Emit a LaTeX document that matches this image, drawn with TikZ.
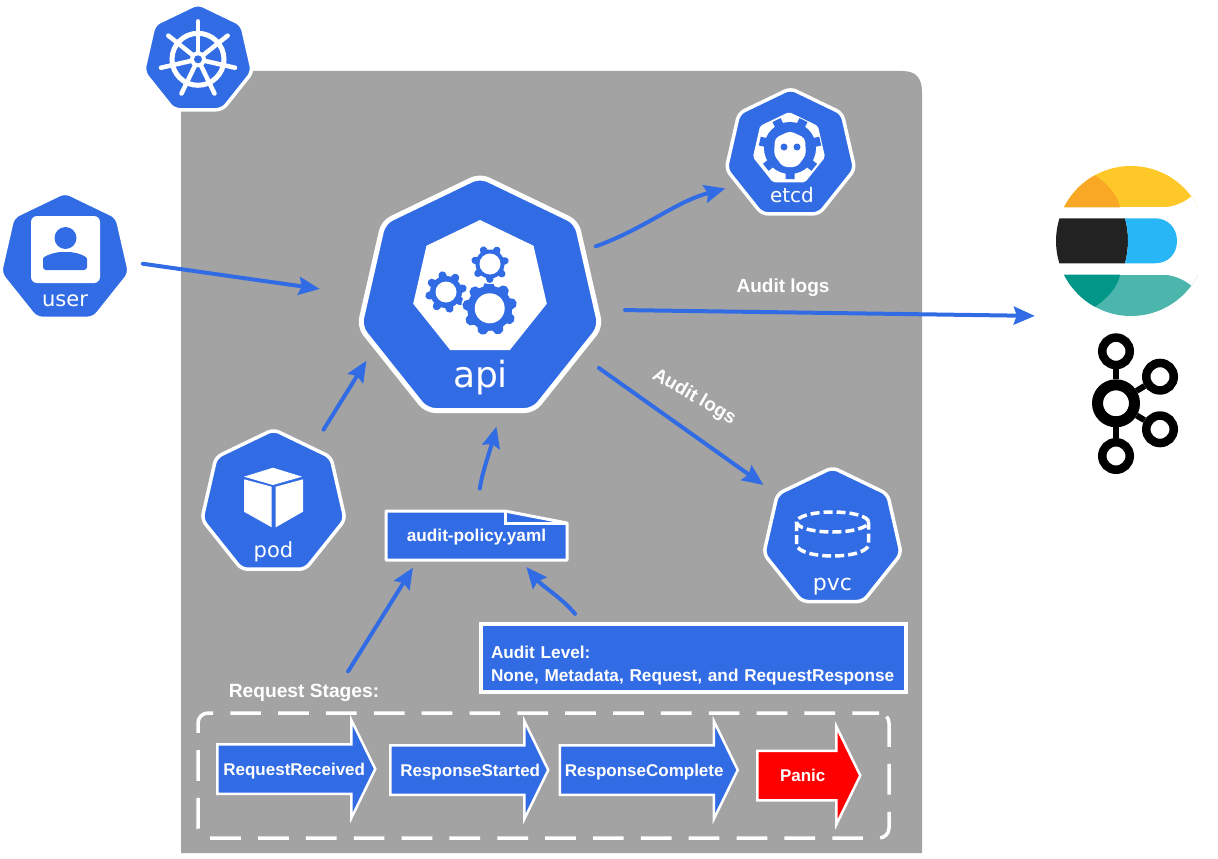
\documentclass[tikz,border=0pt]{standalone}
\usepackage{fontspec}
\setmainfont{DejaVu Sans}
\setsansfont{Liberation Sans}
\usetikzlibrary{positioning,arrows.meta,shapes.geometric,shapes.arrows,calc}
\definecolor{kubeblue}{RGB}{50,108,229}
\definecolor{panelgray}{RGB}{163,163,163}
\definecolor{elasticyellow}{RGB}{254,200,40}
\definecolor{elasticorange}{RGB}{249,168,37}
\definecolor{elasticsky}{RGB}{41,182,246}
\definecolor{elasticblack}{RGB}{34,34,34}
\definecolor{elasticteal}{RGB}{0,150,136}
\definecolor{elasticmint}{RGB}{77,182,172}
\newcommand{\kubegear}[6]{
  \fill[white] (#1,#2) circle[radius=#4+1pt];
  \foreach \tooth in {1,...,#5}
    \draw[kubeblue, line width=0.5*#3, line cap=round] (#1,#2) -- ++(\tooth*360/#5+12:#4-0.25*#3);
  \fill[kubeblue] (#1,#2) circle[radius=#3];
  \fill[white] (#1,#2) circle[radius=#6];
}
\begin{document}
\begin{tikzpicture}[x=1pt,y=-1pt,
  kube/.style={regular polygon, regular polygon sides=7, inner sep=0pt, fill=kubeblue,
               draw=white, line width=3.5pt, rounded corners=6pt},
  kubename/.style={anchor=base, text=white, inner sep=0pt, font=\fontsize{21}{24}\selectfont},
  boldtext/.style={text=white, inner sep=0pt, font=\sffamily\bfseries\fontsize{17.2}{23}\selectfont},
  stagearrow/.style={single arrow, single arrow head extend=24pt, single arrow tip angle=128,
               anchor=tail, minimum width=96pt, inner sep=0pt, fill=kubeblue, draw=white, line width=2.5pt,
               text=white, font=\sffamily\bfseries\fontsize{17}{18}\selectfont, text height=29.5pt, text depth=17.5pt},
  link/.style={-{Stealth[length=21pt,width=18pt,inset=3pt]}, line width=4pt, color=kubeblue, line cap=round},
  kafkaring/.style={circle, draw=black, inner sep=0pt, fill=white}]
  \useasboundingbox (0,0) rectangle (1218,859);
  \fill[panelgray] (181,71) -- (902,71) .. controls (916,71) and (922,78) .. (922,92) -- (922,853) -- (181,853) -- cycle;

  \node[kube, minimum size=112pt] (cluster) at (198,59.3) {};
  \draw[white, line width=5pt] (cluster.center) circle[radius=26pt];
  \foreach \spoke in {0,...,6}
    \draw[white, line width=4.5pt, line cap=round] (cluster.center) -- ++(90+\spoke*360/7:38pt);
  \fill[white] (cluster.center) circle[radius=8pt];
  \fill[kubeblue] (cluster.center) circle[radius=4pt];

  \node[kube, minimum size=133pt] (user) at (65,258.4) {};
  \fill[white, rounded corners=6pt] (31,216) rectangle (100,283);
  \fill[kubeblue] (65.5,238) circle[radius=11pt];
  \fill[kubeblue, rounded corners=3pt] (43,270) -- (43,262) .. controls (43,256) and (55,252) .. (65,252)
    .. controls (76,252) and (87,256) .. (87,262) -- (87,270) -- cycle;
  \node[kubename] (usertext) at (65,306) {user};

  \node[kube, line width=5pt, rounded corners=9pt, minimum size=247pt] (api) at (480,299.3) {};
  \node[regular polygon, regular polygon sides=7, inner sep=0pt, fill=white, minimum size=137pt] (apicore) at (480,288.5) {};
  \kubegear{446}{292}{16pt}{21pt}{8}{10.5pt}
  \kubegear{489.7}{308.3}{22.5pt}{27.5pt}{9}{15pt}
  \kubegear{490}{264}{14.5pt}{19pt}{7}{10.5pt}
  \node[kubename, font=\fontsize{36}{38}\selectfont] (apitext) at (480.5,387) {api};

  \node[kube, minimum size=132pt] (etcd) at (790.5,154.4) {};
  \node[regular polygon, regular polygon sides=7, inner sep=0pt, fill=white, rounded corners=2pt, minimum size=74pt] (etcdcore) at (789,149) {};
  \fill[kubeblue] (790,148) circle[radius=26pt];
  \foreach \notch in {0,...,6}
    \draw[kubeblue, line width=9pt] (790,148) -- ++(90+25.7+\notch*360/7:31pt);
  \fill[white, rounded corners=4pt] (790,131) -- (805,138) -- (806,155) -- (797,167) -- (783,167) -- (774,155) -- (775,138) -- cycle;
  \fill[kubeblue] (784,147) circle[radius=3.5pt] (797,147) circle[radius=3.5pt];
  \node[kubename, font=\fontsize{20}{24}\selectfont] (etcdtext) at (792,202) {etcd};

  \node[kube, minimum size=147pt] (pod) at (273.5,503) {};
  \fill[white] (273,467.7) -- (302,476.7) -- (273,485) -- (244,476.7) -- cycle;
  \fill[white] (244,479.3) -- (271.7,486.7) -- (271.7,527.3) -- (244,511.7) -- cycle;
  \fill[white] (303,479.3) -- (275.7,486.7) -- (275.7,527.3) -- (303,511.7) -- cycle;
  \node[kubename] (podtext) at (273.5,557) {pod};

  \node[kube, minimum size=141pt] (pvc) at (832.5,538) {};
  \draw[white, line width=3.5pt, dash pattern=on 9pt off 4pt] (832.5,522) ellipse[x radius=36pt, y radius=10pt];
  \draw[white, line width=3.5pt, dash pattern=on 9pt off 4pt] (796.5,522) -- (796.5,545) .. controls (798,552) and (815,556) .. (832.5,556)
    .. controls (850,556) and (867,552) .. (868.5,545) -- (868.5,522);
  \node[kubename, font=\fontsize{22}{24}\selectfont] (pvctext) at (832.5,590) {pvc};

  \fill[kubeblue, draw=white, line width=3pt, line join=round] (386,511) -- (505,511) -- (567,523) -- (567,560) -- (386,560) -- cycle;
  \draw[white, line width=3pt] (505,511) -- (505,523) -- (567,523);
  \node[boldtext, minimum width=181pt, minimum height=49pt] (policy) at (476.5,537) {audit-policy.yaml};

  \node[boldtext, fill=kubeblue, draw=white, line width=3.5pt, minimum width=425pt, minimum height=68pt,
        inner xsep=10pt, align=left, text width=405pt] (level) at (693.5,658)
    {\rule{0pt}{28pt}Audit Level:\\None, Metadata, Request, and RequestResponse};

  \node[boldtext, font=\sffamily\bfseries\fontsize{19.2}{20}\selectfont] (stagetitle) at (304,693) {Request Stages:};
  \node[draw=white, line width=3.5pt, dash pattern=on 30.7pt off 17.15pt, dash phase=4pt, rounded corners=10pt,
        minimum width=691pt, minimum height=125pt] (stages) at (543.5,775.5) {};

  \node[stagearrow, minimum height=158pt] (received) at (216,769) {\kern4pt RequestReceived\kern-4pt};
  \node[stagearrow, minimum height=158pt] (started) at (389,770) {\kern7pt ResponseStarted\kern-7pt};
  \node[stagearrow, minimum height=178pt] (complete) at (558.5,770) {\kern1.5pt ResponseComplete\kern-1.5pt};
  \node[stagearrow, fill=red, minimum height=103pt] (panic) at (756,775.5) {Panic};

  \node[inner sep=0pt, minimum width=134pt, minimum height=150pt] (elastic) at (1124,241) {};
  \begin{scope}
    \clip (1131,241) circle[radius=75pt];
    \fill[elasticyellow] (1050,160) rectangle (1206,207.3);
    \fill[white] (1161.7,207.3) .. controls (1172,207.3) and (1182,204) .. (1192,196) -- (1210,196) -- (1210,207.3) -- cycle;
    \fill[elasticorange] (1050,207.3) -- (1120,207.3) .. controls (1118,196) and (1108,184) .. (1096,176) -- (1050,160) -- cycle;
    \fill[elasticmint] (1050,274.7) rectangle (1206,322);
    \fill[white] (1161.7,274.7) .. controls (1172,274.7) and (1182,278) .. (1192,286) -- (1210,286) -- (1210,274.7) -- cycle;
    \fill[elasticteal] (1050,274.7) -- (1120,274.7) .. controls (1118,286) and (1108,298) .. (1096,306) -- (1050,322) -- cycle;
    \fill[elasticblack] (1050,218.3) -- (1125,218.3) .. controls (1129,233) and (1129,248) .. (1125,263.3) -- (1050,263.3) -- cycle;
  \end{scope}
  \fill[elasticsky] (1125,218.3) -- (1155,218.3) .. controls (1168,218.3) and (1177,228) .. (1177,241)
    .. controls (1177,254) and (1168,263.3) .. (1155,263.3) -- (1125,263.3) .. controls (1129,248) and (1129,233) .. (1125,218.3) -- cycle;

  \node[kafkaring, line width=8.5pt, minimum size=27.5pt] (kafkatop) at (1116,351.3) {};
  \node[kafkaring, line width=11pt, minimum size=37pt] (kafkahub) at (1116,403.3) {};
  \node[kafkaring, line width=8.5pt, minimum size=27.5pt] (kafkaupper) at (1160,376.7) {};
  \node[kafkaring, line width=8.5pt, minimum size=27.5pt] (kafkalower) at (1160,429.3) {};
  \node[kafkaring, line width=8.5pt, minimum size=27.5pt] (kafkabottom) at (1116,456) {};
  \draw[black, line width=6pt] (kafkahub) -- (kafkatop);
  \draw[black, line width=6pt] (kafkahub) -- (kafkaupper);
  \draw[black, line width=6pt] (kafkahub) -- (kafkalower);
  \draw[black, line width=6pt] (kafkahub) -- (kafkabottom);

  \draw[link, shorten <=14pt, shorten >=45pt] (user.-3) -- (api.178);
  \draw[link, shorten <=11pt, shorten >=12pt] (api.25) to[out=20, in=195] (etcd.210);
  \draw[link, shorten <=26pt, shorten >=22pt] (api.-5) -- (elastic.south west);
  \draw[link, shorten <=22pt, shorten >=15pt] (api.-29) -- (pvc.142);
  \draw[link, shorten <=20pt, shorten >=14pt] (pod.55) -- (api.205);
  \draw[link, shorten <=24pt, shorten >=14pt] (policy.north) to[out=82, in=-105] (api.-80);
  \draw[link, shorten <=15pt, shorten >=7pt] ($(stagetitle.north west)!.74!(stagetitle.north east)$) -- ($(policy.south west)!.17!(policy.south east)$);
  \draw[link, shorten <=11pt, shorten >=7pt] ($(level.north west)!.24!(level.north east)$) to[out=130, in=-50] ($(policy.south west)!.75!(policy.south east)$);

  \node[boldtext, font=\sffamily\bfseries\fontsize{19}{20}\selectfont] (logsright) at (783,288) {Audit logs};
  \node[boldtext, font=\sffamily\bfseries\fontsize{19}{20}\selectfont, rotate=-30] (logsdown) at (694,397) {Audit logs};
\end{tikzpicture}
\end{document}
